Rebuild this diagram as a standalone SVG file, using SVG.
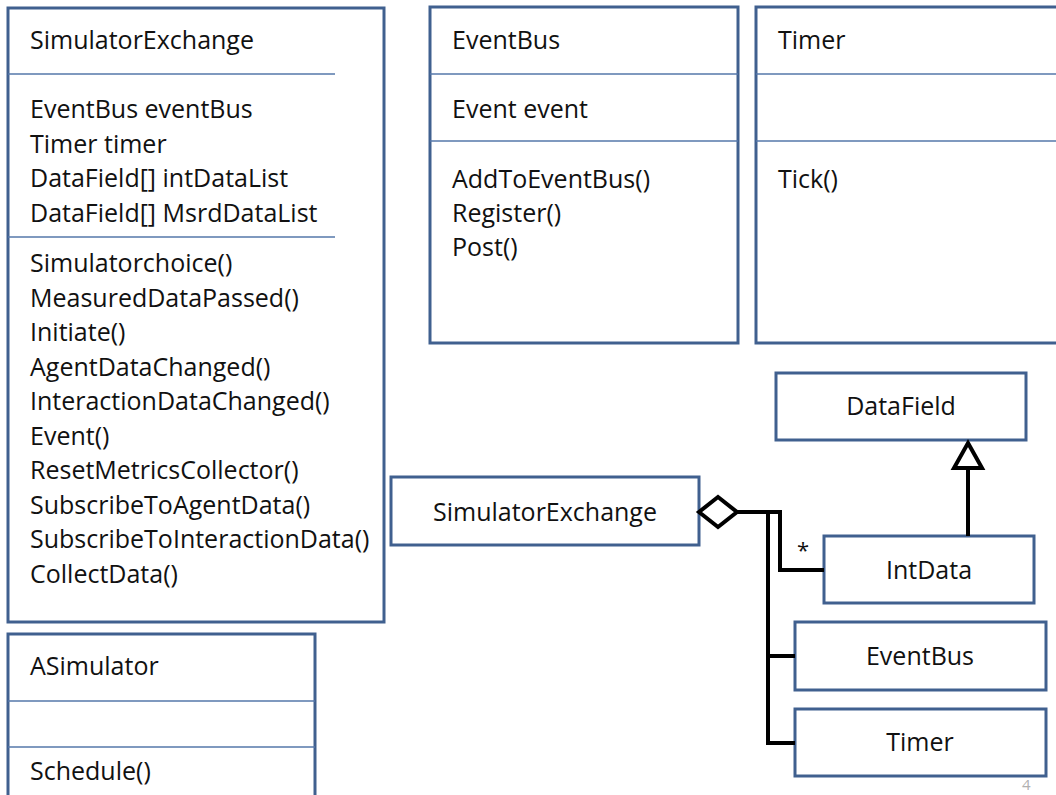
<svg xmlns="http://www.w3.org/2000/svg" width="1056" height="795" viewBox="0 0 1056 795">
<style>
.box{fill:#ffffff;stroke:#40608f;stroke-width:3}
.sep{stroke:#5577aa;stroke-width:1.5;fill:none}
.t{font-family:"Open Sans",Lato,sans-serif;font-size:25px;fill:#111;font-variant-ligatures:none}
.c{text-anchor:middle}
.con{stroke:#000;stroke-width:4;fill:none}
</style>
<rect width="1056" height="795" fill="#ffffff"/>
<g id="node-simexchange-class">
<rect class="box" x="8" y="8" width="376" height="614"/>
<line class="sep" x1="8" y1="74" x2="335" y2="74"/>
<line class="sep" x1="8" y1="237" x2="335" y2="237"/>
<text class="t" x="30" y="49">SimulatorExchange</text>
<text class="t" x="30" y="118">EventBus eventBus</text>
<text class="t" x="30" y="153">Timer timer</text>
<text class="t" x="30" y="187">DataField[] intDataList</text>
<text class="t" x="30" y="222">DataField[] MsrdDataList</text>
<text class="t" x="30" y="272">Simulatorchoice()</text>
<text class="t" x="30" y="306.5">MeasuredDataPassed()</text>
<text class="t" x="30" y="341">Initiate()</text>
<text class="t" x="30" y="375.5">AgentDataChanged()</text>
<text class="t" x="30" y="410">InteractionDataChanged()</text>
<text class="t" x="30" y="444.5">Event()</text>
<text class="t" x="30" y="479">ResetMetricsCollector()</text>
<text class="t" x="30" y="513.5">SubscribeToAgentData()</text>
<text class="t" x="30" y="548">SubscribeToInteractionData()</text>
<text class="t" x="30" y="582.5">CollectData()</text>
</g>
<g id="node-eventbus-class">
<rect class="box" x="430" y="7" width="308" height="336"/>
<line class="sep" x1="430" y1="74" x2="738" y2="74"/>
<line class="sep" x1="430" y1="141" x2="738" y2="141"/>
<text class="t" x="452" y="49">EventBus</text>
<text class="t" x="452" y="118">Event event</text>
<text class="t" x="452" y="188">AddToEventBus()</text>
<text class="t" x="452" y="222">Register()</text>
<text class="t" x="452" y="256">Post()</text>
</g>
<g id="node-timer-class">
<rect class="box" x="756" y="7" width="310" height="336"/>
<line class="sep" x1="756" y1="74" x2="1056" y2="74"/>
<line class="sep" x1="756" y1="141" x2="1056" y2="141"/>
<text class="t" x="778" y="49">Timer</text>
<text class="t" x="778" y="188">Tick()</text>
</g>
<g id="node-asimulator-class">
<rect class="box" x="8" y="634" width="307" height="180"/>
<line class="sep" x1="8" y1="701" x2="315" y2="701"/>
<line class="sep" x1="8" y1="747" x2="315" y2="747"/>
<text class="t" x="30" y="675">ASimulator</text>
<text class="t" x="30" y="780">Schedule()</text>
</g>
<g id="node-datafield">
<rect class="box" x="776" y="373" width="250" height="67"/>
<text class="t c" x="901" y="415">DataField</text>
</g>
<g id="node-simexchange">
<rect class="box" x="391" y="477" width="308" height="68"/>
<text class="t c" x="545" y="521">SimulatorExchange</text>
</g>
<g id="node-intdata">
<rect class="box" x="824" y="536" width="210" height="67"/>
<text class="t c" x="929" y="579">IntData</text>
</g>
<g id="node-eventbus">
<rect class="box" x="795" y="622" width="251" height="68"/>
<text class="t c" x="920" y="665">EventBus</text>
</g>
<g id="node-timer">
<rect class="box" x="795" y="709" width="251" height="67"/>
<text class="t c" x="920" y="751">Timer</text>
</g>
<g id="connectors">
<polygon points="699,512 718,497 737,512 718,527" fill="#fff" stroke="#000" stroke-width="4" stroke-linejoin="miter"/>
<polyline class="con" points="737,512 780,512 780,570 824,570"/>
<polyline class="con" points="768,512 768,743 795,743"/>
<line class="con" x1="768" y1="656" x2="795" y2="656"/>
<line class="con" x1="968" y1="468" x2="968" y2="536"/>
<polygon points="968,443 982,468 954,468" fill="#fff" stroke="#000" stroke-width="4" stroke-linejoin="miter"/>
<text class="t" x="797" y="558" style="font-size:22px">*</text>
</g>
<text x="1022" y="790" style="font-family:'Open Sans',sans-serif;font-size:15px;fill:#b0b0b0">4</text>
</svg>
